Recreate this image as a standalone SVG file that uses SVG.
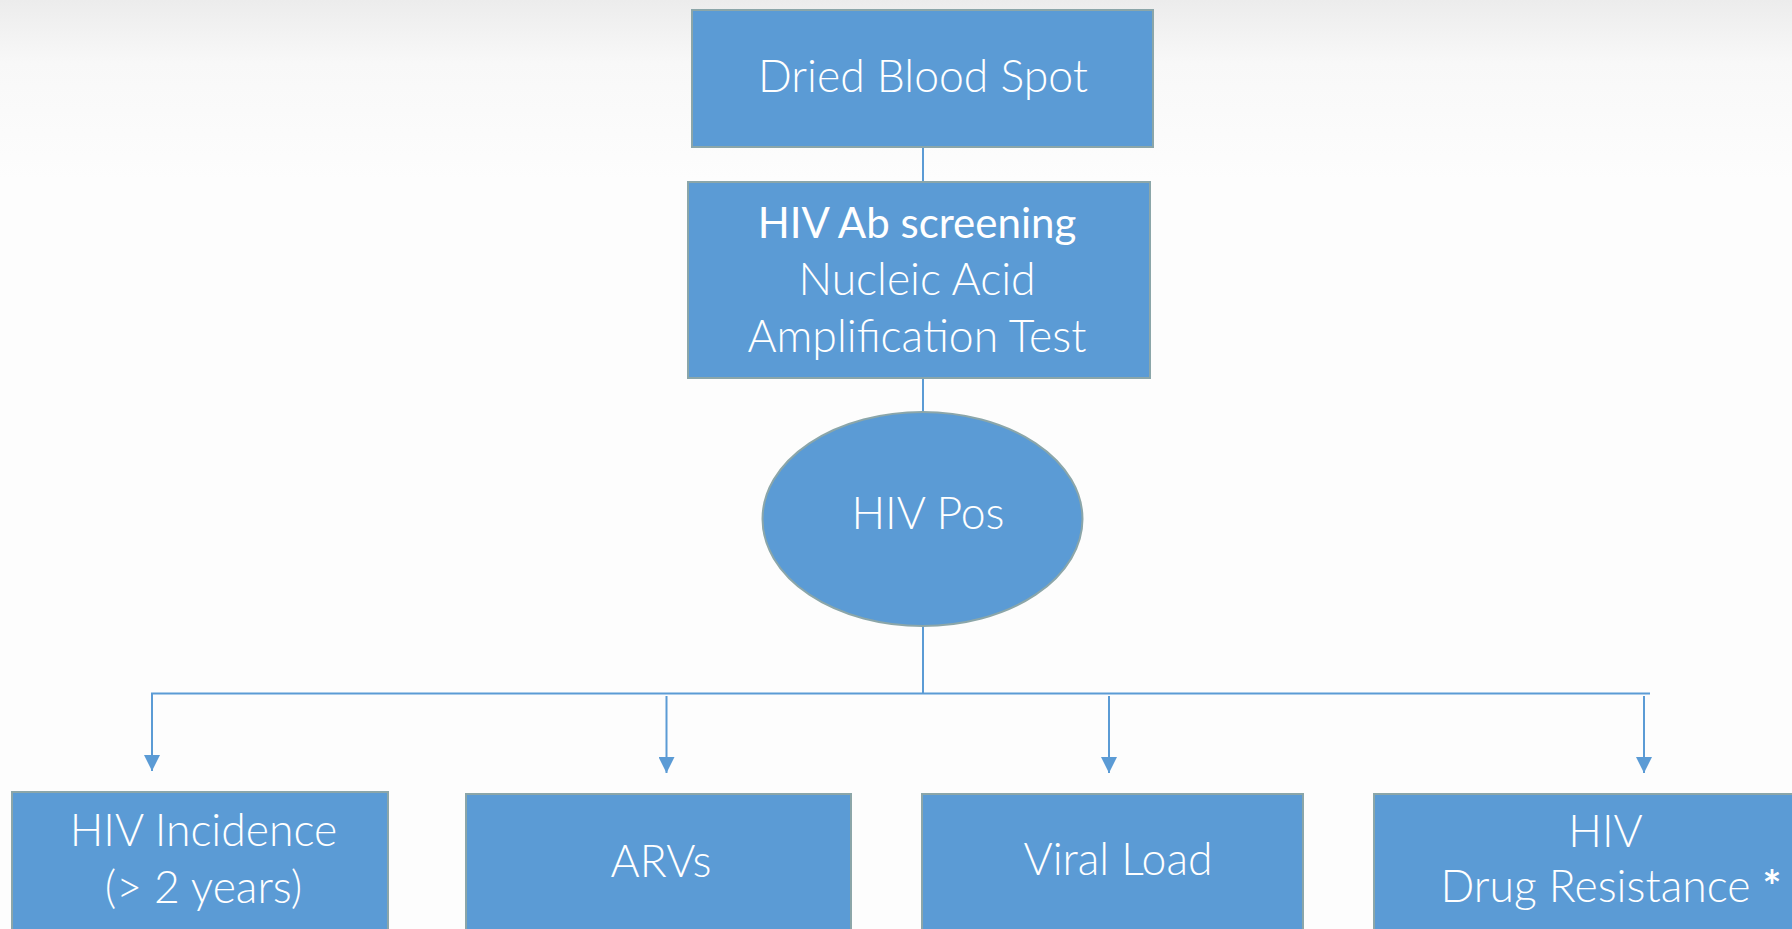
<svg xmlns="http://www.w3.org/2000/svg" width="1792" height="929" viewBox="0 0 1792 929">
<defs>
<linearGradient id="bg" x1="0" y1="0" x2="0" y2="1">
<stop offset="0" stop-color="#ececec"/>
<stop offset="0.35" stop-color="#f8f8f8"/>
<stop offset="1" stop-color="#fdfdfd"/>
</linearGradient>
<marker id="arr" markerUnits="userSpaceOnUse" markerWidth="16" markerHeight="16" refX="16" refY="8" orient="auto" viewBox="0 0 16 16">
<path d="M0,0 L16,8 L0,16 Z" fill="#5b9bd5"/>
</marker>
<style>
.box{fill:#5b9bd5;stroke:#8ba6a9;stroke-width:2}
.t{font-family:Lato,"Open Sans","Liberation Sans",sans-serif;font-weight:300;fill:#ffffff;text-anchor:middle;font-size:44.5px}
.b{font-weight:400;font-size:42px}
.c{stroke:#5b9bd5;stroke-width:2;fill:none}
.ca{stroke:#5b9bd5;stroke-width:2;fill:none;marker-end:url(#arr)}
</style>
</defs>
<rect x="0" y="0" width="1792" height="929" fill="#fdfdfd"/>
<rect x="0" y="0" width="1792" height="180" fill="url(#bg)"/>
<g id="connectors">
<line class="c" x1="923" y1="147" x2="923" y2="182"/>
<line class="c" x1="923" y1="378" x2="923" y2="412"/>
<line class="c" x1="923" y1="626" x2="923" y2="693.5"/>
<line class="c" x1="151" y1="693.5" x2="1650" y2="693.5"/>
<line class="ca" x1="152" y1="693.5" x2="152" y2="771"/>
<line class="ca" x1="666.5" y1="696" x2="666.5" y2="773"/>
<line class="ca" x1="1109" y1="696" x2="1109" y2="773"/>
<line class="ca" x1="1644" y1="696" x2="1644" y2="773"/>
</g>
<g id="node-dbs">
<rect class="box" x="692" y="10" width="461" height="137"/>
<text class="t" x="923" y="92">Dried Blood Spot</text>
</g>
<g id="node-screening">
<rect class="box" x="688" y="182" width="462" height="196"/>
<text class="t b" x="917" y="238">HIV Ab screening</text>
<text class="t" x="917" y="295">Nucleic Acid</text>
<text class="t" x="917" y="352">Amplification Test</text>
</g>
<g id="node-pos">
<ellipse class="box" cx="922.5" cy="519" rx="160" ry="107"/>
<text class="t" x="928" y="529">HIV Pos</text>
</g>
<g id="node-incidence">
<rect class="box" x="12" y="792" width="376" height="150"/>
<text class="t" x="203.5" y="846">HIV Incidence</text>
<text class="t" x="203.5" y="903">(&gt; 2 years)</text>
</g>
<g id="node-arvs">
<rect class="box" x="466" y="794" width="385" height="150"/>
<text class="t" x="661" y="877">ARVs</text>
</g>
<g id="node-viral">
<rect class="box" x="922" y="794" width="381" height="150"/>
<text class="t" x="1118" y="875">Viral Load</text>
</g>
<g id="node-dr">
<rect class="box" x="1374" y="794" width="430" height="150"/>
<text class="t" x="1605.5" y="847">HIV</text>
<text class="t" x="1611" y="902">Drug Resistance <tspan font-weight="700">*</tspan></text>
</g>
</svg>
